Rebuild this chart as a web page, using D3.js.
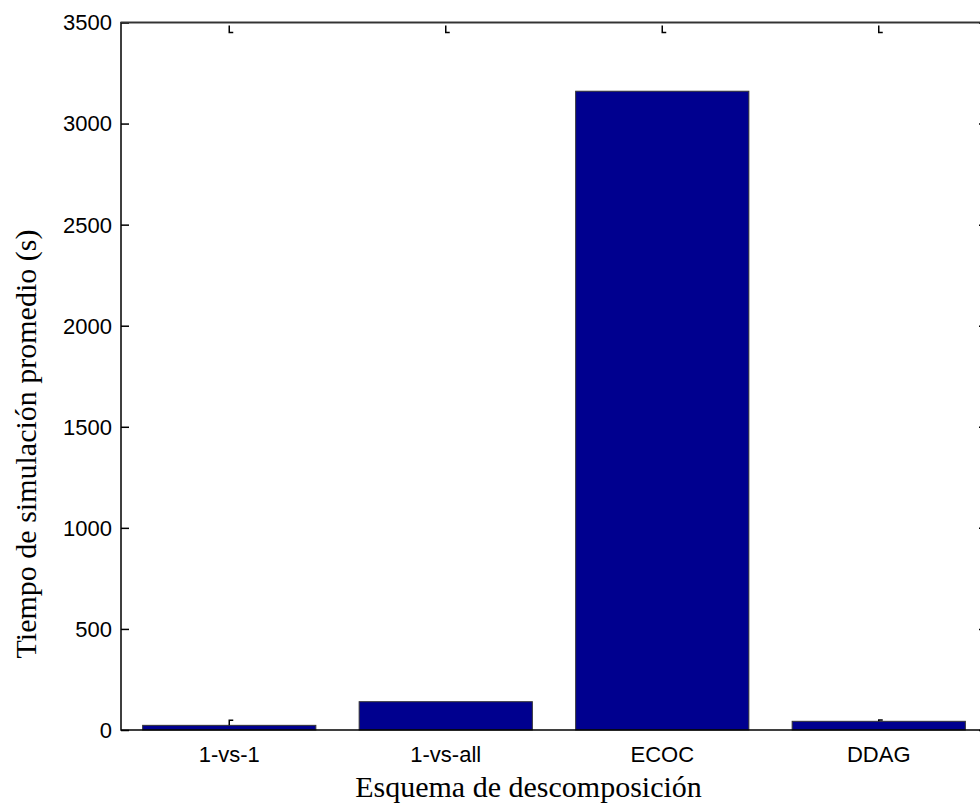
<!DOCTYPE html>
<html>
<head>
<meta charset="utf-8">
<script src="https://cdn.jsdelivr.net/npm/d3@7"></script>
<style>
  body { margin: 0; background: #fff; }
  svg { display: block; }
  .tick-label { font-family: "Liberation Sans", Arial, sans-serif; font-size: 22px; fill: #000; }
  .axis-title { font-family: "Liberation Serif", "Times New Roman", serif; font-size: 30px; fill: #000; }
</style>
</head>
<body>
<div id="chart"></div>
<script>
const width = 980;
const height = 808;
const margin = ({top: 22.5, right: -7, bottom: 78, left: 121})

// data
const schemes = ["1-vs-1", "1-vs-all", "ECOC", "DDAG"];
const meanTime = [23, 140, 3160, 43];
const errUp = [25, 0, 0, 7];
const yTicks = [0, 500, 1000, 1500, 2000, 2500, 3000, 3500];

const barColour = "#00008f";

const x = d3.scaleBand()
    .domain(schemes)
    .range([margin.left, width - margin.right])
    .paddingInner(0.2)
    .paddingOuter(0.1)

const y = d3.scaleLinear()
    .domain([0, 3500])
    .range([height - margin.bottom, margin.top])

const svg = d3.select("#chart")
    .append("svg")
    .attr("width", width)
    .attr("height", height);

const x0 = margin.left, x1 = width - margin.right;
const y0 = height - margin.bottom, y1 = margin.top;

// bars
const data = schemes.map((s, i) => ({name: s, value: meanTime[i], err: errUp[i]}))
svg.selectAll("rect.bar")
    .data(data)
    .enter().append("rect")
    .attr("class", "bar")
    .attr("x", d => x(d.name))
    .attr("width", x.bandwidth())
    .attr("y", d => y(d.value))
    .attr("height", d => y(0) - y(d.value))
    .attr("fill", barColour)
    .attr("stroke", "#333")
    .attr("stroke-width", 1)

// error bars (upper half only, as in the original)
data.filter(d => d.err > 0).forEach(d => {
    const cx = x(d.name) + x.bandwidth() / 2;
    svg.append("path")
        .attr("d", `M${cx},${y(d.value)}V${y(d.value + d.err)}h4`)
        .attr("fill", "none")
        .attr("stroke", "#000")
        .attr("stroke-width", 1.5)
})

// y axis left
svg.append("g")
    .attr("transform", `translate(${x0},0)`)
    .call(d3.axisRight(y).tickValues(yTicks).tickSize(8).tickFormat(""))
    .call(g => g.select(".domain").remove())
    .call(g => g.selectAll("line").attr("stroke", "#000").attr("stroke-width", 1.5))

svg.append("g")
    .selectAll("text")
    .data(yTicks)
    .enter().append("text")
    .attr("class", "tick-label")
    .attr("x", x0 - 9)
    .attr("y", d => y(d))
    .attr("dy", "0.36em")
    .attr("text-anchor", "end")
    .text(d => d)

// right-hand ticks
svg.append("g")
    .attr("transform", `translate(${x1},0)`)
    .call(d3.axisLeft(y).tickValues(yTicks).tickSize(8).tickFormat(""))
    .call(g => g.select(".domain").remove())
    .call(g => g.selectAll("line").attr("stroke", "#000").attr("stroke-width", 1.5))

// top tick marks (small L shapes)
schemes.forEach(s => {
    const cx = x(s) + x.bandwidth() / 2;
    svg.append("path")
        .attr("d", `M${cx},${y1 + 3}V${y1 + 10}h4`)
        .attr("fill", "none")
        .attr("stroke", "#000")
        .attr("stroke-width", 1.5)
})

// box
svg.append("path")
    .attr("d", `M${x1},${y1}H${x0}V${y0}H${x1}`)
    .attr("fill", "none")
    .attr("stroke", "#000")
    .attr("stroke-width", 1.5)
svg.append("line")
    .attr("x1", x0).attr("x2", x1)
    .attr("y1", y1).attr("y2", y1)
    .attr("stroke", "#333")
    .attr("stroke-width", 1.5)

// x tick labels
svg.append("g")
    .selectAll("text")
    .data(schemes)
    .enter().append("text")
    .attr("class", "tick-label")
    .attr("x", d => x(d) + x.bandwidth() / 2)
    .attr("y", y0 + 32)
    .attr("text-anchor", "middle")
    .text(d => d)

// axis titles
svg.append("text")
    .attr("class", "axis-title")
    .attr("x", (margin.left + 980) / 2 - 22)
    .attr("y", 797)
    .attr("text-anchor", "middle")
    .text("Esquema de descomposición")

svg.append("text")
    .attr("class", "axis-title")
    .attr("transform", `translate(36,444) rotate(-90)`)
    .attr("text-anchor", "middle")
    .text("Tiempo de simulación promedio (s)")
</script>
</body>
</html>
